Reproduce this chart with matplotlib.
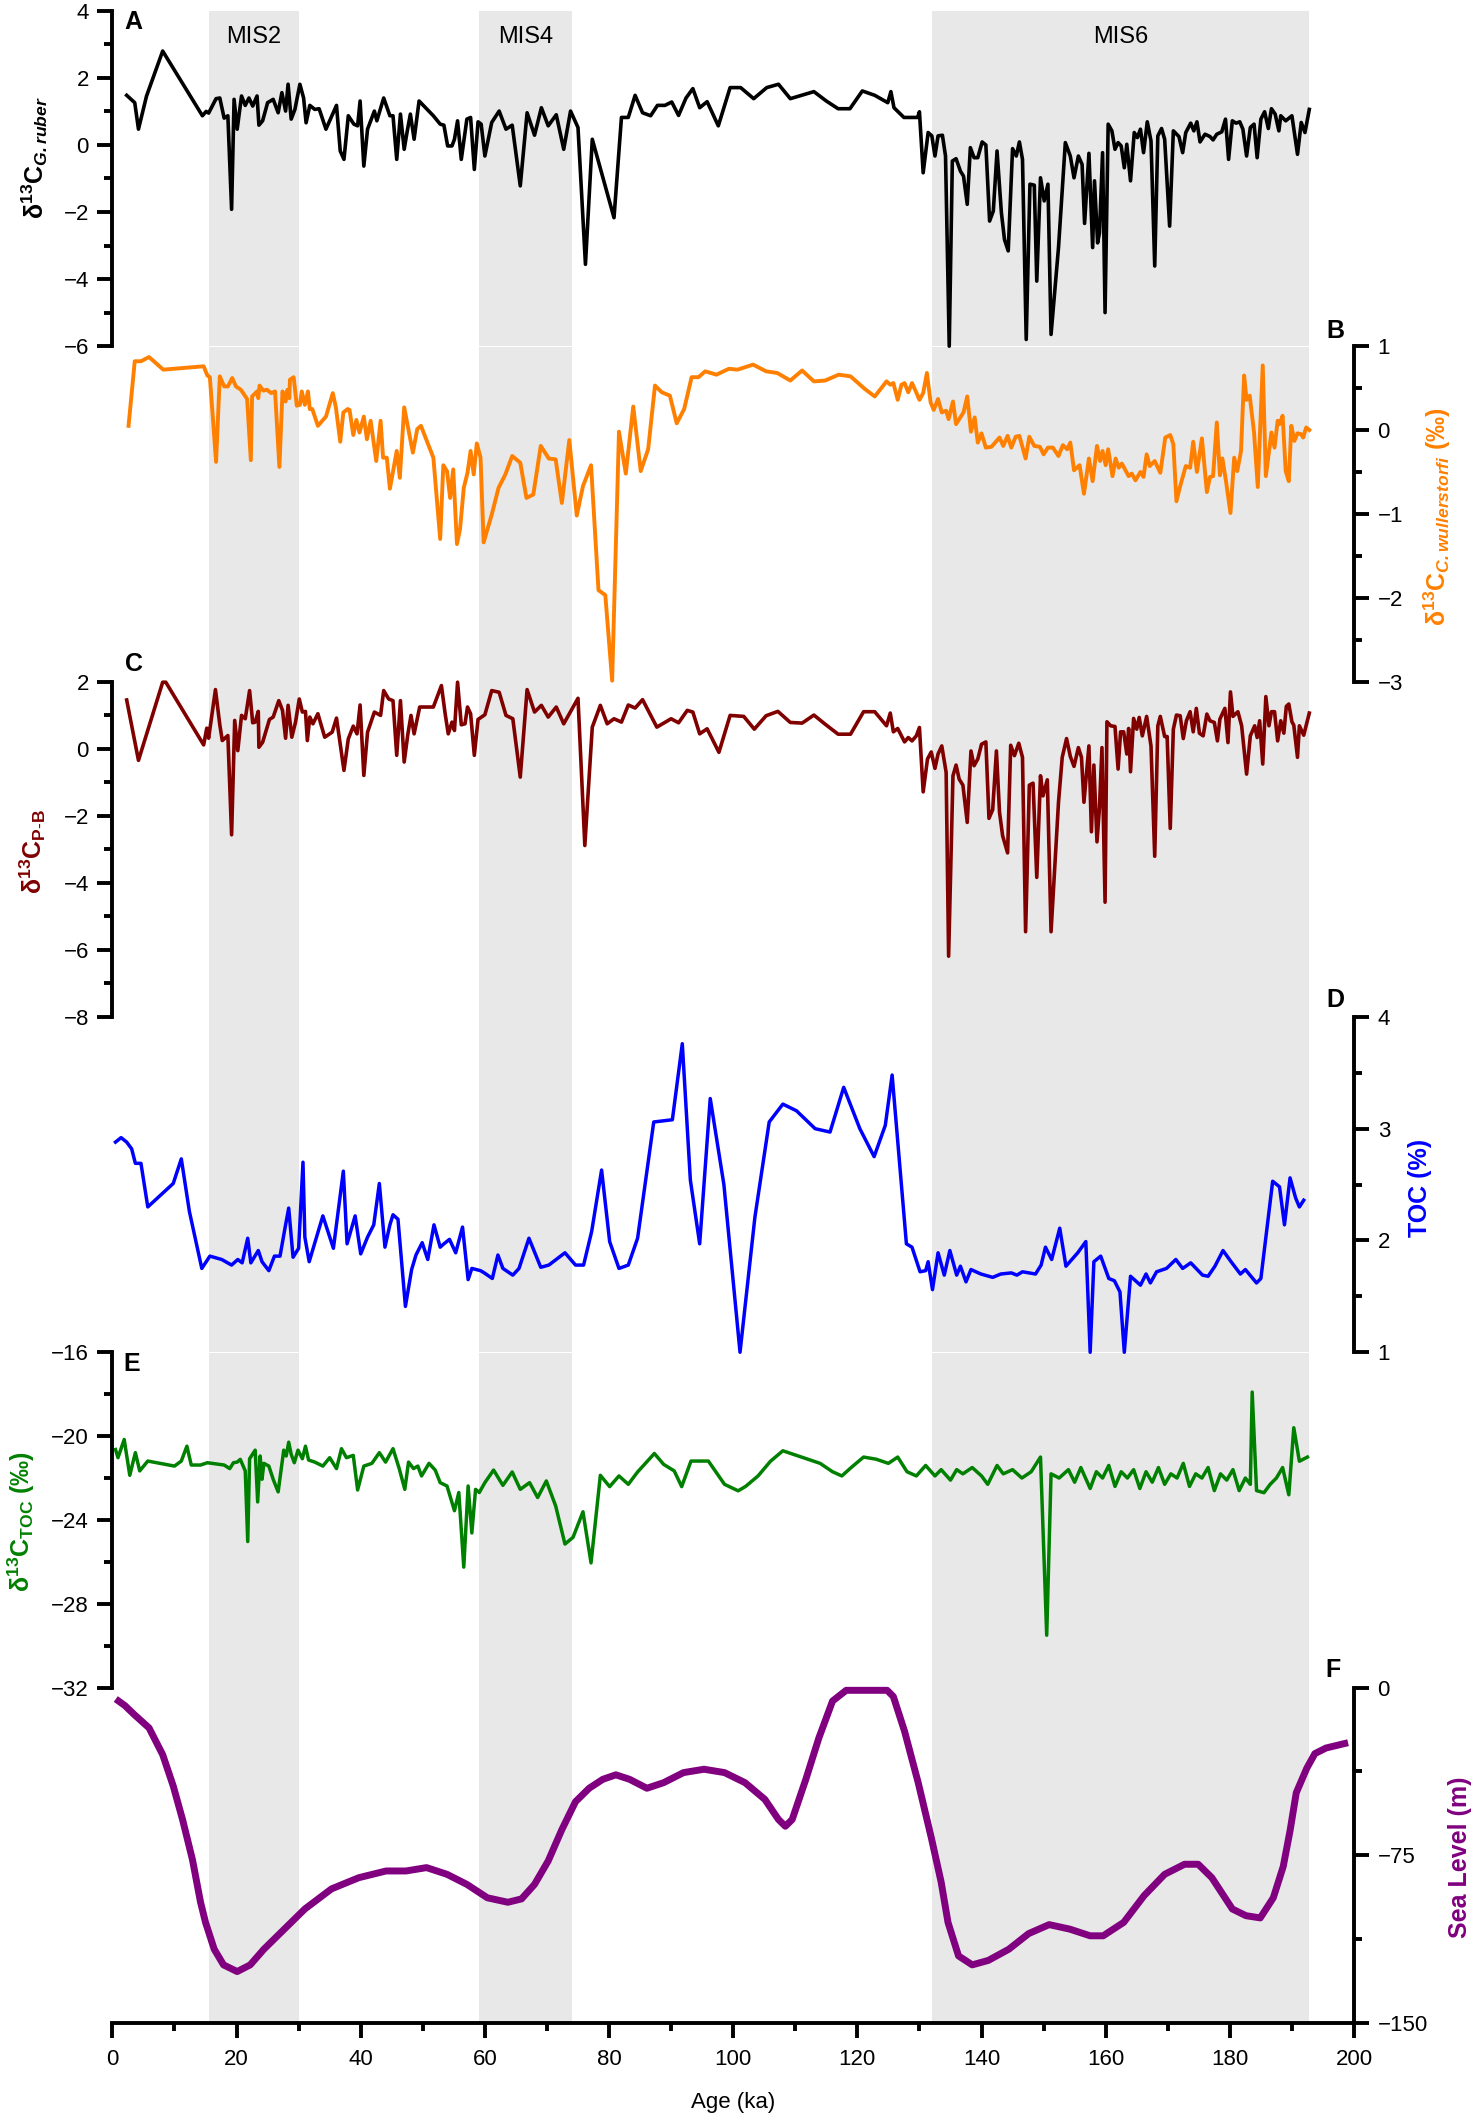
import matplotlib
matplotlib.use('Agg')
import matplotlib.pyplot as plt
from matplotlib.ticker import MultipleLocator

plt.rcParams['font.family'] = ['Liberation Sans', 'DejaVu Sans']
plt.rcParams['mathtext.fontset'] = 'custom'
plt.rcParams['mathtext.rm'] = 'Liberation Sans'
plt.rcParams['mathtext.it'] = 'Liberation Sans:italic'
plt.rcParams['mathtext.bf'] = 'Liberation Sans:bold'
plt.rcParams['mathtext.bfit'] = 'Liberation Sans:bold:italic'

# --- data ---
mis_names = ['MIS2', 'MIS4', 'MIS6']
mis_start = [15.5, 59.0, 132.0]
mis_end = [30.0, 74.0, 192.7]

# A: d13C G. ruber
ruber_age = [2.3, 3.6, 4.2, 5.5, 8.1, 14.5, 15.1, 15.5, 16.7, 17.3, 18.0, 18.6, 19.2, 19.6, 20.1, 20.8,
             21.4, 22.0, 22.6, 23.3, 23.6, 24.2, 25.0, 25.9, 26.7, 27.3, 27.9, 28.3, 28.8, 29.4, 30.2,
             30.8, 31.2, 31.8, 32.6, 33.3, 34.4, 36.1, 36.7, 37.3, 38.0, 38.9, 39.5, 39.9, 40.5, 41.1,
             42.2, 42.6, 43.7, 44.7, 45.2, 45.8, 46.4, 47.0, 47.5, 48.0, 48.6, 49.4, 51.7, 52.8, 53.4,
             54.0, 54.7, 55.1, 55.6, 56.2, 57.1, 57.7, 58.3, 58.9, 59.4, 60.0, 61.1, 62.3, 63.4, 64.4,
             65.7, 66.8, 68.0, 69.1, 70.2, 71.5, 72.7, 73.8, 75.0, 76.2, 77.3, 80.8, 82.0, 83.1, 84.2,
             85.4, 86.7, 87.8, 89.0, 90.1, 91.2, 92.4, 93.5, 94.6, 95.8, 97.6, 99.5, 101.2, 103.3,
             105.4, 107.3, 109.2, 113.0, 115.0, 116.9, 118.8, 120.8, 122.8, 124.9, 125.4, 125.9, 127.5,
             129.7, 130.0, 130.6, 131.4, 132.0, 132.5, 133.0, 133.7, 134.2, 134.8, 135.3, 135.9, 136.6,
             137.1, 137.7, 138.2, 138.8, 139.4, 140.1, 140.7, 141.3, 141.9, 142.5, 143.2, 143.7, 144.3,
             145.0, 145.6, 146.1, 146.6, 147.2, 147.8, 148.5, 148.9, 149.5, 150.1, 150.7, 151.2, 152.4,
             153.5, 154.3, 154.9, 155.6, 156.2, 156.6, 157.3, 157.9, 158.2, 158.7, 159.0, 159.5, 159.9,
             160.4, 161.0, 161.5, 162.0, 162.5, 163.0, 163.4, 164.0, 164.6, 165.1, 165.6, 166.1, 166.7,
             167.3, 167.9, 168.4, 169.0, 169.5, 170.3, 170.9, 171.8, 172.4, 172.9, 173.7, 174.2, 174.7,
             175.2, 176.0, 176.8, 177.3, 177.9, 178.7, 179.3, 179.8, 180.4, 181.0, 181.6, 182.1, 182.7,
             183.3, 183.9, 184.4, 185.0, 185.6, 186.2, 186.7, 187.3, 187.9, 188.2, 189.0, 190.0, 190.9,
             191.5, 192.1, 192.8]
ruber_val = [1.48, 1.26, 0.47, 1.46, 2.8, 0.87, 1.0, 0.95, 1.38, 1.4, 0.8, 0.87, -1.92, 1.36, 0.47, 1.46,
             1.18, 1.4, 1.16, 1.46, 0.59, 0.72, 1.26, 1.36, 0.96, 1.56, 1.01, 1.81, 0.77, 1.06, 1.81,
             1.4, 0.66, 1.18, 1.06, 1.08, 0.47, 1.18, -0.18, -0.43, 0.87, 0.62, 0.57, 1.31, -0.63, 0.47,
             1.01, 0.72, 1.4, 0.87, 0.87, -0.43, 0.92, -0.13, 0.42, 0.92, 0.17, 1.31, 0.87, 0.62, 0.59,
             -0.03, -0.03, 0.17, 0.72, -0.43, 0.77, 0.82, -0.73, 0.69, 0.62, -0.33, 0.67, 1.01, 0.47, 0.59,
             -1.22, 0.96, 0.29, 1.11, 0.57, 0.9, -0.13, 1.01, 0.52, -3.56, 0.17, -2.17, 0.82, 0.82, 1.48,
             0.96, 0.87, 1.18, 1.18, 1.28, 0.88, 1.4, 1.68, 1.11, 1.29, 0.57, 1.71, 1.71, 1.38,
             1.71, 1.81, 1.38, 1.59, 1.31, 1.08, 1.08, 1.61, 1.48, 1.26, 1.59, 1.11, 0.82,
             0.82, 0.99, -0.83, 0.37, 0.27, -0.33, 0.27, 0.29, -0.33, -6.0, -0.48, -0.41, -0.78,
             -0.93, -1.77, -0.08, -0.38, -0.38, 0.09, 0.0, -2.27, -1.97, -0.18, -2.02, -2.82, -3.16,
             -0.11, -0.33, 0.09, -0.43, -5.8, -1.17, -1.2, -4.06, -0.98, -1.67, -1.17, -5.65, -3.06,
             0.07, -0.33, -0.98, -0.33, -0.58, -2.34, -0.25, -3.06, -1.07, -2.92, -2.62, -0.23, -5.0,
             0.62, 0.42, -0.13, 0.07, -0.03, -0.68, 0.02, -1.07, 0.37, 0.22, 0.47, -0.23, 0.69,
             0.12, -3.61, 0.27, 0.49, 0.17, -2.42, 0.42, 0.25, -0.23, 0.37, 0.65, 0.42, 0.69,
             0.09, 0.32, 0.25, 0.15, 0.32, 0.39, 0.77, -0.43, 0.72, 0.65, 0.69, 0.47, -0.33,
             0.52, 0.62, -0.38, 0.77, 0.99, 0.49, 1.08, 0.92, 0.42, 0.87, 0.72, 0.87, -0.28,
             0.67, 0.37, 1.06]

# B: d13C C. wuellerstorfi
wuell_age = [2.6, 3.6, 4.6, 5.9, 8.2, 14.7, 15.3, 15.7, 16.7, 17.3, 18.0, 18.6, 19.3, 19.9, 20.7, 21.7,
             22.3, 22.5, 23.3, 23.5, 23.7, 24.3, 24.9, 25.6, 26.2, 26.9, 27.4, 27.9, 28.2, 28.5, 28.6,
             29.2, 29.7, 30.2, 30.5, 31.0, 31.5, 31.8, 32.2, 33.1, 34.4, 35.5, 36.0, 36.7, 37.2, 37.9,
             38.2, 38.8, 39.3, 39.8, 40.5, 41.0, 41.6, 42.5, 43.2, 43.6, 44.2, 44.7, 45.8, 46.3, 47.0,
             48.4, 49.1, 49.7, 51.7, 52.8, 53.3, 53.9, 54.4, 54.9, 55.5, 56.0, 56.6, 57.2, 57.7, 58.2,
             58.7, 59.3, 59.8, 61.1, 62.2, 63.3, 64.4, 65.7, 66.7, 67.8, 69.0, 70.3, 71.4, 72.4, 73.6,
             74.8, 75.8, 77.1, 78.3, 79.4, 80.5, 81.6, 82.7, 83.9, 85.1, 86.3, 87.4, 88.5, 89.8, 90.9,
             92.1, 93.3, 94.4, 95.5, 97.3, 99.3, 100.7, 103.2, 105.3, 107.1, 109.2, 111.1, 113.0, 114.8,
             117.0, 118.9, 121.2, 122.8, 124.7, 125.3, 125.8, 126.5, 127.1, 127.6, 128.2, 128.8, 129.3,
             130.0, 130.6, 131.2, 131.8, 132.3, 133.0, 133.6, 134.3, 134.7, 135.4, 135.9, 137.1, 137.7,
             138.3, 138.9, 139.4, 140.0, 140.7, 141.6, 142.9, 143.5, 144.2, 144.8, 145.5, 146.1, 147.1,
             147.7, 148.5, 149.4, 150.0, 150.7, 151.5, 152.4, 153.1, 153.8, 154.3, 154.9, 155.8, 156.5,
             157.3, 157.9, 158.6, 159.1, 159.5, 160.0, 160.4, 161.1, 161.6, 162.1, 162.6, 163.7, 164.2,
             164.8, 165.6, 166.1, 166.6, 167.1, 167.9, 168.8, 169.6, 170.4, 170.9, 171.4, 172.0, 172.9,
             173.6, 174.1, 174.7, 175.5, 176.3, 176.8, 177.3, 177.9, 178.4, 178.8, 179.4, 180.1, 180.7,
             181.2, 181.8, 182.3, 182.7, 183.2, 183.9, 184.5, 185.3, 185.8, 186.7, 187.2, 187.7, 188.0,
             188.5, 189.0, 189.5, 189.9, 190.4, 190.9, 191.5, 191.8, 192.3, 192.8]
wuell_val = [0.05, 0.82, 0.82, 0.87, 0.72, 0.76, 0.65, 0.63, -0.38, 0.64, 0.52, 0.52, 0.62, 0.52, 0.48, 0.37,
             -0.36, 0.40, 0.46, 0.38, 0.53, 0.47, 0.48, 0.44, 0.46, -0.44, 0.46, 0.34, 0.48, 0.38, 0.60,
             0.63, 0.29, 0.30, 0.46, 0.30, 0.46, 0.25, 0.25, 0.05, 0.16, 0.44, 0.27, -0.14, 0.21, 0.25,
             0.24, -0.06, 0.12, -0.03, 0.16, -0.11, 0.11, -0.37, 0.11, -0.33, -0.33, -0.70, -0.25, -0.57, 0.27,
             -0.27, 0.01, 0.05, -0.33, -1.30, -0.42, -0.49, -0.81, -0.47, -1.36, -1.18, -0.69, -0.51, -0.25, -0.53,
             -0.16, -0.33, -1.34, -1.01, -0.69, -0.53, -0.31, -0.39, -0.81, -0.77, -0.19, -0.34, -0.35, -0.87, -0.12,
             -1.02, -0.67, -0.42, -1.91, -1.97, -2.99, -0.02, -0.52, 0.28, -0.49, -0.23, 0.53, 0.45, 0.41, 0.08,
             0.25, 0.63, 0.63, 0.70, 0.66, 0.73, 0.72, 0.78, 0.70, 0.68, 0.59, 0.71, 0.58, 0.59,
             0.66, 0.64, 0.49, 0.40, 0.58, 0.54, 0.56, 0.36, 0.54, 0.56, 0.45, 0.56, 0.48,
             0.36, 0.44, 0.68, 0.33, 0.24, 0.37, 0.21, 0.23, 0.13, 0.34, 0.07, 0.21, 0.40,
             -0.02, 0.15, -0.15, -0.04, -0.21, -0.20, -0.09, -0.19, -0.07, -0.21, -0.08, -0.07, -0.34,
             -0.08, -0.19, -0.20, -0.29, -0.21, -0.21, -0.31, -0.18, -0.23, -0.15, -0.48, -0.42, -0.76,
             -0.34, -0.61, -0.19, -0.37, -0.25, -0.42, -0.23, -0.55, -0.34, -0.45, -0.40, -0.55, -0.52,
             -0.60, -0.50, -0.56, -0.29, -0.43, -0.37, -0.51, -0.09, -0.06, -0.17, -0.85, -0.67, -0.43,
             -0.45, -0.14, -0.50, -0.10, -0.74, -0.56, -0.55, 0.09, -0.54, -0.34, -0.62, -0.99, -0.33,
             -0.49, -0.25, 0.65, 0.36, 0.41, -0.03, -0.68, 0.77, -0.55, -0.03, -0.21, 0.11, 0.07,
             0.17, -0.49, -0.61, 0.05, -0.13, -0.04, -0.05, -0.09, 0.03, 0.00]

# C: d13C planktic - benthic
pb_age = [2.3, 4.2, 8.1, 8.6, 14.7, 15.2, 15.5, 16.6, 17.3, 17.7, 18.6, 19.2, 19.7, 20.2, 20.8, 21.4,
          22.1, 22.6, 23.0, 23.5, 23.6, 24.2, 25.3, 25.9, 26.8, 27.4, 27.9, 28.3, 28.9, 29.5, 30.1,
          30.6, 31.1, 31.4, 31.8, 32.3, 33.1, 34.2, 35.4, 36.1, 37.3, 38.0, 38.8, 39.4, 39.9, 40.5,
          41.1, 42.2, 43.2, 43.7, 44.5, 45.2, 45.8, 46.4, 47.0, 47.6, 48.1, 48.6, 49.5, 50.5, 51.7,
          53.0, 53.6, 54.1, 54.7, 55.1, 55.6, 56.2, 56.8, 57.2, 57.7, 58.3, 58.9, 60.0, 61.1, 62.3,
          63.4, 64.5, 65.7, 66.8, 68.0, 69.1, 70.2, 71.5, 72.7, 75.0, 76.1, 77.3, 78.6, 79.7, 80.8,
          82.0, 83.1, 84.2, 85.4, 87.7, 90.0, 91.2, 92.6, 93.5, 94.6, 95.8, 97.7, 99.5, 101.7, 103.4,
          105.3, 107.2, 109.2, 111.1, 113.0, 114.8, 116.9, 118.9, 121.0, 122.8, 124.7, 125.3, 125.8,
          126.5, 127.6, 128.2, 128.8, 129.5, 130.0, 130.6, 131.3, 131.9, 132.5, 133.0, 133.6, 134.3,
          134.7, 135.4, 135.9, 136.4, 137.0, 137.7, 138.3, 138.8, 139.4, 140.0, 140.7, 141.2, 141.8,
          142.4, 142.9, 143.4, 144.2, 144.7, 145.3, 146.0, 146.6, 147.1, 147.7, 148.3, 148.9, 149.5,
          149.9, 150.6, 151.2, 152.4, 153.0, 153.7, 154.3, 154.9, 155.6, 156.1, 156.5, 157.3, 157.7,
          158.1, 158.6, 159.0, 159.4, 159.9, 160.2, 160.8, 161.5, 162.0, 162.4, 162.9, 163.4, 163.7,
          164.0, 164.5, 165.0, 165.4, 165.9, 166.6, 167.3, 167.9, 168.4, 168.8, 169.5, 169.9, 170.4,
          170.9, 171.4, 172.0, 172.5, 173.0, 173.6, 174.1, 174.6, 175.1, 175.7, 176.3, 176.8, 177.5,
          178.0, 178.4, 179.2, 179.7, 180.1, 180.5, 181.3, 181.9, 182.7, 183.3, 184.0, 184.4, 184.8,
          185.3, 185.8, 186.3, 186.7, 187.2, 187.7, 188.2, 188.7, 189.1, 189.5, 190.0, 190.3, 190.9,
          191.2, 191.9, 192.8]
pb_val = [1.45, -0.35, 1.98, 1.98, 0.11, 0.61, 0.31, 1.76, 0.71, 0.24, 0.39, -2.57, 0.84, -0.06, 0.99, 0.89,
          1.73, 0.77, 0.79, 1.11, 0.04, 0.19, 0.87, 0.94, 1.43, 1.14, 0.31, 1.29, 0.34, 0.79, 1.48,
          1.09, 1.11, 0.24, 0.94, 0.74, 1.04, 0.34, 0.49, 0.91, -0.65, 0.29, 0.67, 0.44, 1.30, -0.80,
          0.49, 1.09, 0.99, 1.73, 1.48, 1.43, -0.20, 1.43, -0.40, 0.44, 0.99, 0.44, 1.24, 1.24, 1.24,
          1.88, 1.04, 0.44, 0.79, 0.54, 1.98, 0.71, 0.74, 1.24, 1.04, -0.20, 0.87, 1.01, 1.73, 1.68,
          0.99, 0.89, -0.85, 1.76, 1.09, 1.29, 0.94, 1.24, 0.74, 1.50, -2.89, 0.64, 1.29, 0.74, 0.89,
          0.79, 1.30, 1.21, 1.46, 0.64, 0.89, 0.77, 1.14, 1.09, 0.44, 0.59, -0.11, 0.99, 0.96, 0.58,
          0.98, 1.11, 0.78, 0.76, 1.00, 0.73, 0.43, 0.43, 1.10, 1.10, 0.68, 1.06, 0.50,
          0.60, 0.20, 0.33, 0.23, 0.38, 0.63, -1.29, -0.31, -0.10, -0.59, -0.16, 0.08, -0.71,
          -6.19, -0.81, -0.49, -0.91, -1.09, -2.20, -0.07, -0.51, -0.31, 0.13, 0.20, -2.08, -1.82,
          -0.07, -1.90, -2.60, -3.11, 0.10, -0.21, 0.16, -0.26, -5.46, -1.09, -1.03, -3.84, -0.81,
          -1.41, -0.93, -5.46, -1.60, -0.26, 0.30, -0.23, -0.53, 0.03, -0.26, -1.60, 0.08, -2.48,
          -0.49, -2.78, -1.75, 0.03, -4.58, 0.80, 0.68, 0.66, -0.61, 0.50, 0.50, -0.16, 0.60,
          -0.69, 0.90, 0.58, 0.93, 0.38, 0.96, 0.08, -3.21, 0.68, 0.96, 0.36, 0.36, -2.38,
          0.58, 1.00, 0.98, 0.30, 0.83, 1.10, 0.50, 1.20, 0.46, 0.38, 1.03, 0.83, 0.78,
          0.23, 0.88, 1.20, 0.18, 1.69, 0.96, 1.10, 0.68, -0.76, 0.38, 0.68, 0.33, 0.83,
          -0.46, 1.55, 0.68, 1.10, 1.10, 0.23, 0.83, 0.46, 1.26, 1.33, 0.80, 0.70, -0.26,
          0.68, 0.40, 1.06]

# D: TOC (%)
toc_age = [0.5, 1.4, 2.3, 3.1, 3.7, 4.6, 5.7, 9.8, 11.1, 12.4, 14.4, 15.7, 17.6, 19.2, 20.2, 20.9, 21.8,
           22.3, 23.5, 24.1, 25.2, 26.1, 27.0, 27.8, 28.4, 29.1, 30.0, 30.7, 31.0, 31.7, 33.9, 35.6,
           37.2, 37.8, 39.1, 40.0, 41.1, 42.1, 43.0, 43.9, 44.7, 45.2, 46.0, 47.2, 48.2, 48.9, 49.9,
           50.8, 51.8, 52.8, 53.4, 54.3, 55.3, 56.4, 57.3, 57.9, 59.3, 59.9, 61.2, 62.1, 62.9, 64.5,
           65.5, 67.1, 69.0, 70.3, 72.9, 74.6, 75.9, 77.2, 78.8, 80.1, 81.6, 83.1, 84.6, 87.2, 90.2,
           91.8, 93.1, 94.6, 96.3, 98.5, 101.1, 103.5, 105.8, 108.0, 110.2, 113.2, 115.6, 117.8, 120.4,
           122.7, 124.5, 125.6, 127.9, 128.8, 130.1, 131.0, 131.4, 132.1, 133.0, 134.0, 134.9, 136.0,
           136.6, 137.5, 138.3, 139.9, 141.8, 143.1, 144.8, 145.7, 146.6, 148.7, 149.6, 150.3, 151.3,
           152.6, 153.6, 155.5, 156.8, 157.5, 158.1, 159.2, 160.5, 161.4, 162.3, 163.0, 164.0, 165.6,
           166.5, 167.2, 168.2, 169.8, 171.3, 172.4, 173.7, 175.6, 176.5, 177.6, 178.9, 180.2, 181.7,
           182.5, 183.4, 184.3, 185.0, 186.9, 188.0, 188.8, 189.7, 190.6, 191.2, 191.9]
toc_val = [2.88, 2.92, 2.88, 2.82, 2.69, 2.69, 2.30, 2.51, 2.73, 2.26, 1.75, 1.86, 1.83, 1.78, 1.83, 1.80, 2.02,
           1.80, 1.91, 1.81, 1.73, 1.86, 1.86, 2.11, 2.29, 1.85, 1.93, 2.70, 2.03, 1.81, 2.22, 1.93,
           2.62, 1.97, 2.22, 1.88, 2.03, 2.14, 2.51, 1.94, 2.14, 2.23, 2.19, 1.41, 1.74, 1.87, 1.98,
           1.83, 2.14, 1.94, 1.97, 2.01, 1.89, 2.12, 1.65, 1.75, 1.73, 1.71, 1.66, 1.87, 1.75, 1.69,
           1.75, 2.02, 1.76, 1.78, 1.89, 1.78, 1.78, 2.08, 2.63, 1.99, 1.75, 1.78, 2.02, 3.06, 3.08,
           3.76, 2.54, 1.97, 3.27, 2.50, 1.00, 2.21, 3.06, 3.22, 3.16, 3.00, 2.97, 3.37, 3.00,
           2.75, 3.03, 3.48, 1.97, 1.94, 1.72, 1.73, 1.81, 1.56, 1.89, 1.69, 1.91, 1.69,
           1.77, 1.63, 1.74, 1.70, 1.67, 1.70, 1.71, 1.69, 1.72, 1.70, 1.78, 1.94, 1.83,
           2.11, 1.77, 1.89, 1.99, 1.00, 1.81, 1.86, 1.66, 1.64, 1.54, 1.00, 1.68, 1.60,
           1.70, 1.62, 1.72, 1.75, 1.83, 1.75, 1.80, 1.69, 1.68, 1.77, 1.91, 1.81, 1.70,
           1.74, 1.68, 1.62, 1.66, 2.53, 2.48, 2.14, 2.56, 2.38, 2.30, 2.36]

# E: d13C TOC
d13toc_age = [0.5, 0.9, 1.9, 2.8, 3.7, 4.4, 5.7, 10.0, 11.1, 12.0, 12.7, 14.2, 15.3, 18.0, 18.9, 19.5,
              20.1, 20.6, 21.4, 21.8, 22.1, 23.0, 23.4, 23.8, 24.1, 24.4, 25.2, 25.9, 26.7, 27.6, 28.0,
              28.4, 28.8, 29.3, 29.9, 30.6, 31.1, 31.6, 32.6, 33.9, 35.0, 36.1, 36.9, 37.7, 38.8, 39.5,
              40.5, 41.8, 43.0, 44.0, 45.2, 46.2, 47.1, 47.7, 48.5, 49.2, 49.8, 51.0, 52.0, 52.8, 53.9,
              55.1, 55.8, 56.6, 57.3, 57.9, 58.5, 59.1, 60.0, 61.4, 62.9, 64.4, 65.7, 67.2, 68.5, 69.9,
              71.4, 72.9, 74.2, 75.8, 77.1, 78.6, 80.1, 81.6, 83.1, 84.6, 87.3, 88.8, 90.5, 91.7, 93.2,
              96.0, 98.6, 100.8, 102.0, 104.0, 106.0, 108.0, 110.0, 112.0, 114.0, 116.0, 117.5, 119.0,
              121.0, 123.0, 125.0, 126.5, 128.0, 129.5, 131.0, 132.5, 133.5, 135.0, 136.0, 137.0, 138.5,
              140.0, 141.0, 142.5, 143.5, 145.0, 146.5, 148.0, 149.5, 150.5, 151.2, 152.5, 154.0, 155.0,
              156.0, 157.5, 158.5, 159.5, 160.5, 161.5, 162.5, 163.5, 164.5, 165.5, 166.5, 167.5, 168.5,
              169.5, 170.5, 171.5, 172.5, 173.5, 174.5, 175.5, 176.5, 177.5, 178.5, 179.5, 180.5, 181.5,
              182.5, 183.3, 183.6, 184.3, 185.5, 186.5, 187.5, 188.5, 189.5, 190.3, 191.2, 192.5]
d13toc_val = [-20.64, -21.03, -20.16, -21.87, -20.79, -21.66, -21.19, -21.43, -21.19, -20.48, -21.38, -21.38,
              -21.27, -21.38, -21.55, -21.27, -21.24, -21.11, -21.66, -25.03, -21.08, -20.67, -23.14, -20.95,
              -22.06, -21.30, -21.43, -22.06, -22.66, -20.67, -20.95, -20.29, -20.87, -21.27, -20.67, -21.08,
              -20.48, -21.14, -21.24, -21.43, -21.03, -21.55, -20.60, -21.03, -20.92, -22.57, -21.43, -21.30,
              -20.79, -21.24, -20.60, -21.55, -22.54, -21.24, -21.55, -21.43, -21.90, -21.30, -21.62, -22.22,
              -22.38, -23.56, -22.69, -26.25, -22.38, -24.62, -22.54, -22.69, -22.22, -21.62, -22.35, -21.71,
              -22.54, -22.22, -22.93, -22.14, -23.33, -25.15, -24.83, -23.61, -26.05, -21.87, -22.41, -21.90,
              -22.30, -21.71, -20.83, -21.35, -21.66, -22.41, -21.19, -21.19, -22.30, -22.61, -22.4, -21.9,
              -21.2, -20.7, -20.9, -21.1, -21.3, -21.7, -21.9, -21.5, -21.0, -21.1, -21.3, -21.0, -21.7,
              -21.9, -21.4, -21.9, -21.6, -22.1, -21.6, -21.8, -21.5, -21.9, -22.3, -21.4, -21.8, -21.6,
              -22.0, -21.7, -21.0, -29.5, -21.8, -22.0, -21.6, -22.2, -21.5, -22.5, -21.7, -22.0, -21.4,
              -22.4, -21.7, -22.0, -21.6, -22.5, -21.7, -22.2, -21.5, -22.3, -21.8, -22.0, -21.3, -22.4,
              -21.8, -22.0, -21.5, -22.6, -21.8, -22.1, -21.6, -22.6, -22.0, -22.3, -17.9, -22.6, -22.7,
              -22.3, -22.0, -21.5, -22.8, -19.6, -21.2, -21.0]

# F: sea level (m)
sl_age = [1.0, 2.0, 3.5, 5.9, 8.1, 9.8, 11.3, 12.9, 14.2, 15.0, 16.4, 17.9, 20.1, 22.2, 24.4, 27.7,
          31.0, 35.3, 39.7, 44.1, 47.3, 50.6, 53.9, 57.1, 60.4, 63.7, 65.9, 68.0, 70.2, 72.4, 74.6,
          76.8, 79.0, 81.1, 83.3, 86.1, 88.8, 92.0, 95.3, 98.6, 101.9, 105.1, 107.3, 108.4, 109.5,
          111.7, 113.8, 116.0, 118.2, 121.5, 124.8, 125.8, 127.6, 129.8, 131.9, 133.5, 134.6, 136.3,
          138.5, 141.1, 144.4, 147.6, 150.9, 154.2, 157.5, 159.6, 162.9, 166.2, 169.5, 172.7, 174.9,
          177.1, 180.4, 182.6, 184.9, 187.0, 188.6, 189.7, 190.7, 192.4, 193.7, 195.5, 197.0, 198.5]
sl_val = [-6, -8, -12, -18, -30, -44, -59, -77, -96, -105, -117, -124, -127, -124, -117, -108,
          -99, -90, -85, -82, -82, -80.5, -83.5, -88, -94, -96, -94.5, -88, -77.5, -63.5, -51,
          -45, -41, -39, -41, -45, -42.5, -38, -36.5, -38, -42.5, -50, -59, -62, -59,
          -41, -22.5, -6, -1.2, -1.2, -1.2, -4, -19.5, -42.5, -67, -87, -105, -120,
          -124, -122, -117, -110, -106, -108, -111, -111, -105, -93, -83.5, -79, -79,
          -85, -99, -102, -103, -94, -80, -64, -47, -36, -29.5, -27, -26, -25]

# --- layout ---
W_PX, H_PX = 1476, 2124
fig = plt.figure(figsize=(W_PX / 100, H_PX / 100), dpi=100)

left = 112.4 / W_PX
right = 1354 / W_PX
top = 1 - 10.8 / H_PX
bottom = 1 - 2023 / H_PX
ph = (top - bottom) / 6

band_col = '#e8e8e8'
lw_spine = 2.8
tick_fs = 16
lab_fs = 18

# grey MIS bands behind everything (split where the panel groups meet)
bg = fig.add_axes([left, bottom, right - left, top - bottom], zorder=0)
bg.set_xlim(0, 200)
bg.set_ylim(0, 6)
bg.axis('off')
gap = 0.0016
for s, e in zip(mis_start, mis_end):
    for y0, y1 in [(5 + gap, 6), (2 + gap, 5 - gap), (0, 2 - gap)]:
        bg.fill_between([s, e], y0, y1, color=band_col, lw=0)
for name, s, e in zip(mis_names, mis_start, mis_end):
    fig.text(left + (right - left) * (s + e) / 400, 0.9826, name, ha='center', va='center',
             fontsize=17)

panels = [
    (ruber_age, ruber_val, 'black', 'left', (-6, 4), 2, 1, 2.6),
    (wuell_age, wuell_val, '#ff8000', 'right', (-3, 1), 1, 0.5, 2.8),
    (pb_age, pb_val, '#800000', 'left', (-8, 2), 2, 1, 2.6),
    (toc_age, toc_val, '#0000ff', 'right', (1, 4), 1, 0.5, 2.5),
    (d13toc_age, d13toc_val, '#008000', 'left', (-32, -16), 4, 2, 2.5),
    (sl_age, sl_val, '#800080', 'right', (-150, 0), 75, 37.5, 5.0),
]

axes = []
for i, (xa, ya, col, side, ylim, maj, mnr, lw) in enumerate(panels):
    ax = fig.add_axes([left, top - (i + 1) * ph, right - left, ph], zorder=1)
    ax.patch.set_alpha(0)
    ax.plot(xa, ya, color=col, lw=lw, clip_on=False)
    ax.set_xlim(0, 200)
    ax.set_ylim(*ylim)
    for sp in ax.spines.values():
        sp.set_visible(False)
    ax.spines[side].set_visible(True)
    ax.spines[side].set_linewidth(lw_spine)
    ax.yaxis.set_major_locator(MultipleLocator(maj))
    ax.yaxis.set_minor_locator(MultipleLocator(mnr))
    if side == 'right':
        ax.yaxis.tick_right()
    ax.tick_params(axis='y', which='major', direction='out', length=11, width=lw_spine,
                   labelsize=tick_fs, pad=6)
    ax.tick_params(axis='y', which='minor', direction='out', length=6, width=lw_spine)
    ax.tick_params(axis='x', which='both', bottom=False, labelbottom=False)
    axes.append(ax)

axF = axes[-1]
axF.spines['bottom'].set_visible(True)
axF.spines['bottom'].set_linewidth(lw_spine)
axF.xaxis.set_major_locator(MultipleLocator(20))
axF.xaxis.set_minor_locator(MultipleLocator(10))
axF.tick_params(axis='x', which='major', bottom=True, labelbottom=True, direction='out',
                length=11, width=lw_spine, labelsize=tick_fs, pad=8)
axF.tick_params(axis='x', which='minor', bottom=True, direction='out', length=6, width=lw_spine)
fig.text(left + (right - left) / 2, 0.0099, 'Age (ka)', ha='center', va='center', fontsize=16)

# axis titles
fig.text(0.0237, 0.9256, r'δ$^{\mathbf{13}}$C$_{\mathbfit{G.ruber}}$', rotation=90,
         ha='center', va='center', fontsize=lab_fs, fontweight='bold', color='black')
fig.text(0.9738, 0.7566, r'δ$^{\mathbf{13}}$C$_{\mathbfit{C.wullerstorfi}}$ (‰)', rotation=90,
         ha='center', va='center', fontsize=lab_fs, fontweight='bold', color='#ff8000')
fig.text(0.0224, 0.599, r'δ$^{\mathbf{13}}$C$_{\mathbf{P\text{-}B}}$', rotation=90,
         ha='center', va='center', fontsize=lab_fs, fontweight='bold', color='#800000')
fig.text(0.962, 0.4407, 'TOC (%)', rotation=90, ha='center', va='center',
         fontsize=lab_fs, fontweight='bold', color='#0000ff')
fig.text(0.0143, 0.2835, r'δ$^{\mathbf{13}}$C$_{\mathbf{TOC}}$ (‰)', rotation=90,
         ha='center', va='center', fontsize=lab_fs, fontweight='bold', color='#008000')
fig.text(0.989, 0.1258, 'Sea Level (m)', rotation=90, ha='center', va='center',
         fontsize=lab_fs, fontweight='bold', color='#800080')

# panel letters
letters = ['A', 'B', 'C', 'D', 'E', 'F']
letter_x = [133, 1335, 134, 1335, 132, 1333]
letter_y = [22, 331, 664, 1000, 1364, 1670]
for t, lx, ly in zip(letters, letter_x, letter_y):
    fig.text(lx / W_PX, 1 - ly / H_PX, t, ha='center', va='center', fontsize=18,
             fontweight='bold')

fig.savefig('out.png', dpi=100)
